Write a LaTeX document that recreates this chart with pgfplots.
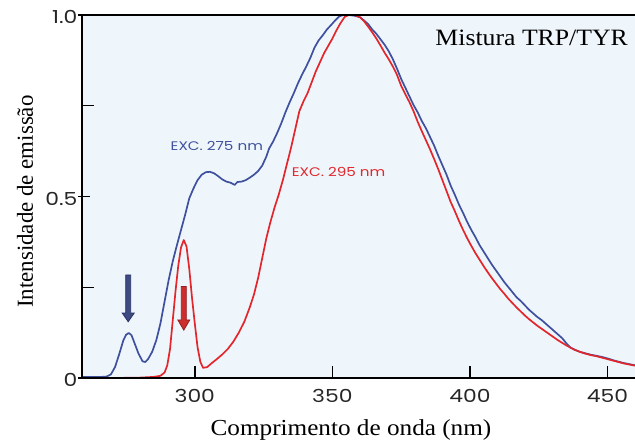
\documentclass[border=0pt]{standalone}
\usepackage{fontspec}
\setmainfont{Liberation Serif}[FakeStretch=1.1]
\newfontfamily\plainserif{Liberation Serif}
\newfontfamily\geo{Poppins}[FakeStretch=1.22]
\usepackage{pgfplots}
\pgfplotsset{compat=1.18}
\usetikzlibrary{arrows.meta}

\definecolor{bgblue}{RGB}{238,246,251}
\definecolor{blueline}{RGB}{62,80,158}
\definecolor{redline}{RGB}{226,38,44}
\definecolor{navyarrow}{RGB}{40,50,100}
\definecolor{navyfill}{RGB}{62,74,130}
\definecolor{redarrow}{RGB}{150,30,34}
\definecolor{redfill}{RGB}{205,45,45}

% emission spectrum, excitation at 275 nm
\pgfplotstableread{
x y
259 0.003
262 0.003
266 0.003
268 0.004
269.5 0.010
271 0.030
272.5 0.065
274 0.103
275 0.119
276 0.124
277 0.118
278 0.098
279.5 0.068
281 0.046
282 0.044
283 0.052
284.5 0.072
286 0.104
287.5 0.150
289 0.210
290.5 0.270
292 0.322
293.5 0.366
295 0.408
296.5 0.450
298 0.495
299.5 0.522
301 0.545
302.5 0.560
304 0.567
305.5 0.568
307 0.564
308.5 0.556
310 0.547
311.5 0.541
313 0.538
314.5 0.532
315.5 0.540
317 0.541
318.5 0.545
320 0.552
321.5 0.560
323 0.570
324.5 0.585
326 0.610
327 0.632
328.5 0.652
330 0.676
331.5 0.703
333 0.733
334.5 0.760
336 0.785
337.5 0.812
339 0.836
340.5 0.858
342 0.882
343.5 0.910
345 0.930
346.5 0.944
348 0.960
349.5 0.972
351 0.985
352.5 0.996
354 1.0
356 1.0
358 0.998
360 0.994
361.5 0.985
363 0.975
364.5 0.960
366 0.948
367.5 0.933
369 0.918
370.5 0.900
372 0.878
373.5 0.852
375 0.824
376.5 0.800
378 0.776
379.5 0.752
381 0.732
382.5 0.708
384 0.688
385.5 0.664
387 0.640
388.5 0.612
390 0.586
391.5 0.560
393 0.530
394.5 0.505
396 0.478
397.5 0.455
399 0.430
400.5 0.408
402 0.388
403.5 0.366
405 0.348
406.5 0.330
408 0.312
409.5 0.296
411 0.280
412.5 0.264
414 0.250
415.5 0.236
417 0.222
418.5 0.212
420 0.200
421.5 0.188
423 0.178
424.5 0.168
426 0.160
427.5 0.150
429 0.140
430.5 0.130
432 0.120
433.5 0.110
435 0.096
436.5 0.084
438 0.078
440 0.072
442 0.068
444 0.064
446 0.061
448 0.058
450 0.054
452 0.049
454 0.045
456 0.041
458 0.038
460 0.035
}\excA

% emission spectrum, excitation at 295 nm
\pgfplotstableread{
x y
259 0.000
270 0.000
280 0.001
285 0.003
287.5 0.006
289 0.015
290 0.035
291 0.080
292 0.160
293 0.240
294 0.310
295 0.360
296 0.380
297 0.362
298 0.300
299 0.220
300 0.150
301 0.085
302 0.045
303 0.028
304.5 0.030
306 0.040
308 0.052
310 0.065
312 0.080
314 0.100
316 0.125
318 0.155
320 0.195
321.5 0.230
323 0.275
324.5 0.330
326 0.385
327.5 0.430
329 0.470
330.5 0.505
332 0.545
333.5 0.590
335 0.635
336.5 0.685
338 0.735
339.5 0.762
341 0.785
342.5 0.815
344 0.845
345.5 0.870
347 0.895
348.5 0.915
350 0.935
351.5 0.958
353 0.978
354.5 0.995
356 1.0
358 1.0
360 0.994
361.5 0.983
363 0.968
364.5 0.952
366 0.935
367.5 0.916
369 0.896
370.5 0.878
372 0.858
373.5 0.835
375 0.805
376.5 0.782
378 0.760
379.5 0.735
381 0.706
382.5 0.680
384 0.655
385.5 0.630
387 0.603
388.5 0.575
390 0.545
391.5 0.515
393 0.485
394.5 0.460
396 0.433
397.5 0.408
399 0.385
400.5 0.364
402 0.344
403.5 0.326
405 0.308
406.5 0.291
408 0.275
409.5 0.260
411 0.245
412.5 0.232
414 0.218
415.5 0.206
417 0.194
418.5 0.183
420 0.172
421.5 0.162
423 0.153
424.5 0.144
426 0.136
427.5 0.128
429 0.120
430.5 0.112
432 0.104
433.5 0.097
435 0.090
436.5 0.084
438 0.078
440 0.072
442 0.067
444 0.063
446 0.060
448 0.056
450 0.052
452 0.048
454 0.044
456 0.040
458 0.037
460 0.034
}\excB

\begin{document}
\begin{tikzpicture}
\begin{axis}[
  width=553bp, height=363bp, scale only axis,
  xmin=259, xmax=460, ymin=0, ymax=1,
  axis x line=box, axis y line=left,
  xtick pos=bottom, ytick pos=left,
  x axis line style={-, line width=1.8bp},
  y axis line style={-, line width=1.8bp},
  axis background/.style={fill=bgblue},
  xtick={300,350,400,450},
  ytick={0,0.5,1}, yticklabels={0,0.5,1.0},
  minor ytick={0.25,0.75},
  tick align=inside,
  major tick length=12bp, minor tick length=12bp,
  every tick/.style={black, line width=1.4bp},
  every major y tick/.append style={xshift=-4bp},
  /pgf/number format/assume math mode=true,
  tick label style={font=\geo\fontsize{18}{20}\selectfont, text=black!85},
  xticklabel style={yshift=-8bp},
  yticklabel style={xshift=-1bp, yshift=-2bp},
  every axis x label/.style={at={(axis description cs:0.4864,0)}, anchor=base, yshift=-57bp,
    font=\fontsize{23}{26}\selectfont},
  every axis y label/.style={at={(axis description cs:0,0.4857)}, anchor=base, rotate=90, yshift=49bp,
    font=\plainserif\fontsize{23}{26}\selectfont},
  xlabel={Comprimento de onda (nm)},
  ylabel={Intensidade de emissão},
  clip=false,
]
\addplot[blueline, line width=1.7bp, line join=round] table[x=x,y=y] {\excA};
\addplot[redline, line width=1.7bp, line join=round] table[x=x,y=y] {\excB};

% frame: left, top and bottom edges
\draw[black, line width=1.8bp, line cap=rect]
  (rel axis cs:1,1) -- (rel axis cs:0,1) -- (rel axis cs:0,0) -- (rel axis cs:1,0);

% excitation markers
\draw[draw=navyarrow, fill=navyfill, line width=0.8bp, line join=miter]
  ([xshift=-2.5bp]axis cs:275.8,0.284) -- ([xshift=-2.5bp]axis cs:275.8,0.179)
  -- ([xshift=-6bp]axis cs:275.8,0.179) -- (axis cs:275.8,0.155)
  -- ([xshift=6bp]axis cs:275.8,0.179) -- ([xshift=2.5bp]axis cs:275.8,0.179)
  -- ([xshift=2.5bp]axis cs:275.8,0.284) -- cycle;
\draw[draw=redarrow, fill=redfill, line width=0.8bp, line join=miter]
  ([xshift=-2.5bp]axis cs:296,0.252) -- ([xshift=-2.5bp]axis cs:296,0.160)
  -- ([xshift=-6bp]axis cs:296,0.160) -- (axis cs:296,0.132)
  -- ([xshift=6bp]axis cs:296,0.160) -- ([xshift=2.5bp]axis cs:296,0.160)
  -- ([xshift=2.5bp]axis cs:296,0.252) -- cycle;

\node[text=blueline, font=\geo\fontsize{12.5}{14}\selectfont, inner sep=0pt]
  at (axis cs:308,0.639) {EXC. 275 nm};
\node[text=redline, font=\geo\fontsize{12.5}{14}\selectfont, inner sep=0pt, anchor=west]
  at (axis cs:335.2,0.568) {EXC. 295 nm};
\node[font=\fontsize{23.5}{27}\selectfont, anchor=base east, inner sep=0pt]
  at (axis cs:457.5,0.917) {Mistura TRP/TYR};

\coordinate (sw) at (rel axis cs:0,0);
\coordinate (ne) at (rel axis cs:1,1);
\end{axis}
\pgfresetboundingbox
\path[use as bounding box] ([xshift=-82bp,yshift=-68bp]sw) rectangle ([yshift=15bp]ne);
\end{tikzpicture}
\end{document}
